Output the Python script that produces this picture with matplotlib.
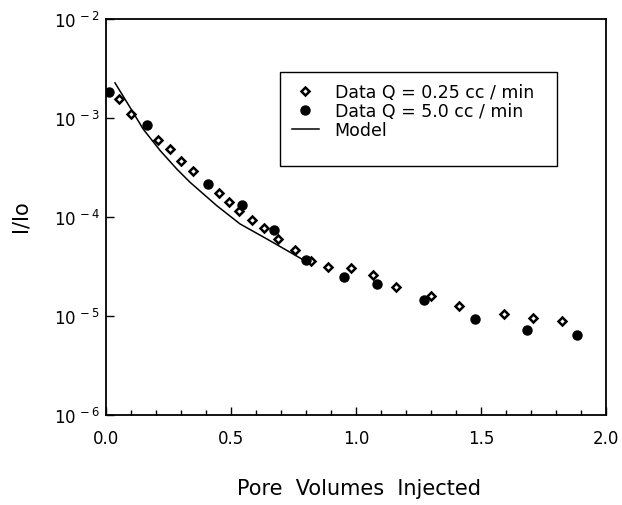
import numpy as np
import matplotlib
matplotlib.use("Agg")
import matplotlib.pyplot as plt
from matplotlib.patches import Rectangle
from matplotlib.ticker import FixedLocator, MultipleLocator, FuncFormatter

plt.rcParams["font.family"] = ["DejaVu Sans"]
plt.rcParams["mathtext.fontset"] = "dejavusans"

# open symbols, Q = 0.25 cc/min
x_slow = [0.053, 0.099, 0.207, 0.256, 0.300, 0.348, 0.452, 0.493, 0.533, 0.585, 0.632,
          0.688, 0.756, 0.820, 0.889, 0.980, 1.069, 1.160, 1.300, 1.412, 1.592, 1.709, 1.823]
y_slow = [1.54e-3, 1.1e-3, 6.0e-4, 4.8e-4, 3.7e-4, 2.9e-4, 1.75e-4, 1.42e-4, 1.15e-4, 9.3e-5, 7.7e-5,
          6.0e-5, 4.6e-5, 3.55e-5, 3.15e-5, 3.07e-5, 2.57e-5, 1.95e-5, 1.58e-5, 1.27e-5, 1.05e-5, 9.5e-6, 8.9e-6]

# filled symbols, Q = 5.0 cc/min
x_fast = [0.013, 0.163, 0.407, 0.543, 0.673, 0.800, 0.953, 1.083, 1.272, 1.476, 1.683, 1.885]
y_fast = [1.84e-3, 8.4e-4, 2.15e-4, 1.32e-4, 7.4e-5, 3.7e-5, 2.48e-5, 2.1e-5, 1.46e-5, 9.3e-6, 7.2e-6, 6.4e-6]

# model curve
x_model = [0.036, 0.096, 0.149, 0.216, 0.283, 0.336, 0.443, 0.536, 0.643, 0.736, 0.796]
y_model = [2.26e-3, 1.28e-3, 7.7e-4, 4.7e-4, 3.05e-4, 2.24e-4, 1.3e-4, 8.5e-5, 6.0e-5, 4.4e-5, 3.6e-5]

fig = plt.figure(figsize=(6.22, 5.06), dpi=100)
ax = fig.add_axes([0.1704, 0.178, 0.804, 0.7826])

ax.plot(x_slow, y_slow, ls="none", marker="D", ms=4.5, mfc="white", mec="black", mew=1.8,
        label="Data Q = 0.25 cc / min")
ax.plot(x_fast, y_fast, ls="none", marker="o", ms=6.5, mfc="black", mec="black",
        label="Data Q = 5.0 cc / min")
ax.plot(x_model, y_model, color="black", lw=1.1, label="Model")

ax.set_yscale("log")
ax.set_xlim(0, 2.0)
ax.set_ylim(1e-6, 1e-2)
ax.xaxis.set_major_locator(MultipleLocator(0.5))
ax.xaxis.set_minor_locator(MultipleLocator(0.1))
ax.xaxis.set_major_formatter(FuncFormatter(lambda v, p: f"{v:.1f}"))
ax.yaxis.set_major_locator(FixedLocator([1e-6, 1e-5, 1e-4, 1e-3, 1e-2]))
ax.yaxis.set_minor_locator(FixedLocator([]))
ax.yaxis.set_major_formatter(FuncFormatter(
    lambda v, p: r"$\mathregular{10^{\,%d}}$" % int(round(np.log10(v)))))
ax.tick_params(axis="both", which="both", direction="in", labelsize=12)
ax.tick_params(axis="x", which="major", length=6, width=1, pad=10)
ax.tick_params(axis="x", which="minor", length=3.5, width=1)
ax.tick_params(axis="y", which="major", length=6, width=1, pad=4.5)
for s in ax.spines.values():
    s.set_linewidth(1.3)

ax.set_xlabel("Pore  Volumes  Injected", fontsize=15)
ax.xaxis.set_label_coords(0.505, -0.16)
ax.set_ylabel("I/Io", fontsize=15)
ax.yaxis.set_label_coords(-0.15, 0.505)

# legend frame drawn separately (the original has extra room under the last row)
ax.add_patch(Rectangle((0.348, 0.629), 0.554, 0.237, transform=ax.transAxes,
                       fill=False, edgecolor="black", lw=1.0, zorder=5))
ax.legend(loc="upper left", bbox_to_anchor=(0.372, 0.838), borderaxespad=0, borderpad=0,
          fontsize=12.5, frameon=False, handlelength=1.55, handletextpad=0.9, labelspacing=0.05)

fig.savefig("out.png", dpi=100)
